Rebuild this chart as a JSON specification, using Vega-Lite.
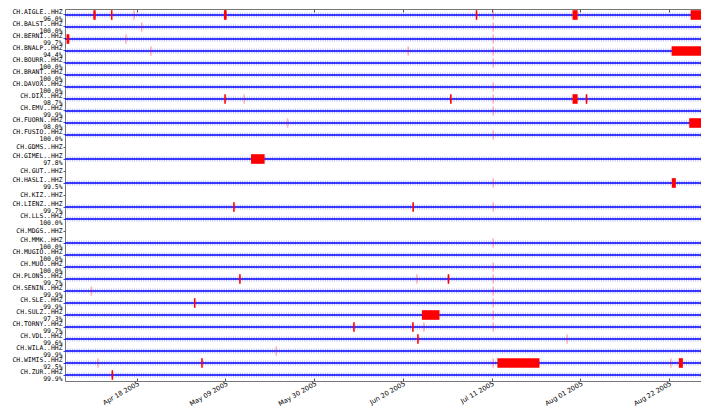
{
  "$schema": "https://vega.github.io/schema/vega-lite/v6.json",
  "autosize": {"type": "none"},
  "padding": {"left": 65, "top": 9, "right": 0, "bottom": 33},
  "width": 636,
  "height": 372,
  "background": "white",
  "config": {"view": {"stroke": null}},
  "datasets": {
    "stations": [
      {"row": "CH.AIGLE..HHZ|96.0%", "start": "2005-04-01T00:00:00Z", "end": "2005-08-31T00:00:00Z"},
      {"row": "CH.BALST..HHZ|100.0%", "start": "2005-04-01T00:00:00Z", "end": "2005-08-31T00:00:00Z"},
      {"row": "CH.BERNI..HHZ|99.7%", "start": "2005-04-01T00:00:00Z", "end": "2005-08-31T00:00:00Z"},
      {"row": "CH.BNALP..HHZ|94.4%", "start": "2005-04-01T00:00:00Z", "end": "2005-08-31T00:00:00Z"},
      {"row": "CH.BOURR..HHZ|100.0%", "start": "2005-04-01T00:00:00Z", "end": "2005-08-31T00:00:00Z"},
      {"row": "CH.BRANT..HHZ|100.0%", "start": "2005-04-01T00:00:00Z", "end": "2005-08-31T00:00:00Z"},
      {"row": "CH.DAVOX..HHZ|100.0%", "start": "2005-04-01T00:00:00Z", "end": "2005-08-31T00:00:00Z"},
      {"row": "CH.DIX..HHZ|98.7%", "start": "2005-04-01T00:00:00Z", "end": "2005-08-31T00:00:00Z"},
      {"row": "CH.EMV..HHZ|99.9%", "start": "2005-04-01T00:00:00Z", "end": "2005-08-31T00:00:00Z"},
      {"row": "CH.FUORN..HHZ|98.0%", "start": "2005-04-01T00:00:00Z", "end": "2005-08-31T00:00:00Z"},
      {"row": "CH.FUSIO..HHZ|100.0%", "start": "2005-04-01T00:00:00Z", "end": "2005-08-31T00:00:00Z"},
      {"row": "CH.GDMS..HHZ"},
      {"row": "CH.GIMEL..HHZ|97.8%", "start": "2005-04-01T00:00:00Z", "end": "2005-08-31T00:00:00Z"},
      {"row": "CH.GUT..HHZ"},
      {"row": "CH.HASLI..HHZ|99.5%", "start": "2005-04-01T00:00:00Z", "end": "2005-08-31T00:00:00Z"},
      {"row": "CH.KIZ..HHZ"},
      {"row": "CH.LIENZ..HHZ|99.7%", "start": "2005-04-01T00:00:00Z", "end": "2005-08-31T00:00:00Z"},
      {"row": "CH.LLS..HHZ|100.0%", "start": "2005-04-01T00:00:00Z", "end": "2005-08-31T00:00:00Z"},
      {"row": "CH.MDGS..HHZ"},
      {"row": "CH.MMK..HHZ|100.0%", "start": "2005-04-01T00:00:00Z", "end": "2005-08-31T00:00:00Z"},
      {"row": "CH.MUGIO..HHZ|100.0%", "start": "2005-04-01T00:00:00Z", "end": "2005-08-31T00:00:00Z"},
      {"row": "CH.MUO..HHZ|100.0%", "start": "2005-04-01T00:00:00Z", "end": "2005-08-31T00:00:00Z"},
      {"row": "CH.PLONS..HHZ|99.7%", "start": "2005-04-01T00:00:00Z", "end": "2005-08-31T00:00:00Z"},
      {"row": "CH.SENIN..HHZ|99.9%", "start": "2005-04-01T00:00:00Z", "end": "2005-08-31T00:00:00Z"},
      {"row": "CH.SLE..HHZ|99.9%", "start": "2005-04-01T00:00:00Z", "end": "2005-08-31T00:00:00Z"},
      {"row": "CH.SULZ..HHZ|97.3%", "start": "2005-04-01T00:00:00Z", "end": "2005-08-31T00:00:00Z"},
      {"row": "CH.TORNY..HHZ|99.7%", "start": "2005-04-01T00:00:00Z", "end": "2005-08-31T00:00:00Z"},
      {"row": "CH.VDL..HHZ|99.6%", "start": "2005-04-01T00:00:00Z", "end": "2005-08-31T00:00:00Z"},
      {"row": "CH.WILA..HHZ|99.9%", "start": "2005-04-01T00:00:00Z", "end": "2005-08-31T00:00:00Z"},
      {"row": "CH.WIMIS..HHZ|92.5%", "start": "2005-04-01T00:00:00Z", "end": "2005-08-31T00:00:00Z"},
      {"row": "CH.ZUR..HHZ|99.9%", "start": "2005-04-01T00:00:00Z", "end": "2005-08-31T00:00:00Z"}
    ],
    "gaps": [
      {"row": "CH.AIGLE..HHZ|96.0%", "start": "2005-04-07T17:00:00Z", "end": "2005-04-08T06:30:00Z"},
      {"row": "CH.AIGLE..HHZ|96.0%", "start": "2005-04-11T21:00:00Z", "end": "2005-04-12T06:00:00Z"},
      {"row": "CH.AIGLE..HHZ|96.0%", "start": "2005-05-08T15:00:00Z", "end": "2005-05-09T06:30:00Z"},
      {"row": "CH.AIGLE..HHZ|96.0%", "start": "2005-07-07T06:00:00Z", "end": "2005-07-07T15:00:00Z"},
      {"row": "CH.AIGLE..HHZ|96.0%", "start": "2005-07-30T04:00:00Z", "end": "2005-07-31T09:00:00Z"},
      {"row": "CH.AIGLE..HHZ|96.0%", "start": "2005-08-27T03:00:00Z", "end": "2005-08-31T00:00:00Z"},
      {"row": "CH.BERNI..HHZ|99.7%", "start": "2005-04-01T09:00:00Z", "end": "2005-04-02T00:30:00Z"},
      {"row": "CH.BNALP..HHZ|94.4%", "start": "2005-08-22T15:00:00Z", "end": "2005-08-31T00:00:00Z"},
      {"row": "CH.DIX..HHZ|98.7%", "start": "2005-05-08T17:00:00Z", "end": "2005-05-09T02:00:00Z"},
      {"row": "CH.DIX..HHZ|98.7%", "start": "2005-07-01T04:00:00Z", "end": "2005-07-01T13:00:00Z"},
      {"row": "CH.DIX..HHZ|98.7%", "start": "2005-07-30T04:00:00Z", "end": "2005-07-31T09:00:00Z"},
      {"row": "CH.DIX..HHZ|98.7%", "start": "2005-08-02T07:00:00Z", "end": "2005-08-02T16:00:00Z"},
      {"row": "CH.FUORN..HHZ|98.0%", "start": "2005-08-26T19:00:00Z", "end": "2005-08-31T00:00:00Z"},
      {"row": "CH.GIMEL..HHZ|97.8%", "start": "2005-05-15T01:00:00Z", "end": "2005-05-18T06:30:00Z"},
      {"row": "CH.HASLI..HHZ|99.5%", "start": "2005-08-22T16:00:00Z", "end": "2005-08-23T15:00:00Z"},
      {"row": "CH.LIENZ..HHZ|99.7%", "start": "2005-05-10T19:30:00Z", "end": "2005-05-11T04:30:00Z"},
      {"row": "CH.LIENZ..HHZ|99.7%", "start": "2005-06-22T06:00:00Z", "end": "2005-06-22T15:00:00Z"},
      {"row": "CH.PLONS..HHZ|99.7%", "start": "2005-05-12T05:30:00Z", "end": "2005-05-12T14:30:00Z"},
      {"row": "CH.PLONS..HHZ|99.7%", "start": "2005-06-30T14:30:00Z", "end": "2005-06-30T23:30:00Z"},
      {"row": "CH.SLE..HHZ|99.9%", "start": "2005-05-01T12:30:00Z", "end": "2005-05-01T21:30:00Z"},
      {"row": "CH.SULZ..HHZ|97.3%", "start": "2005-06-24T12:00:00Z", "end": "2005-06-28T16:00:00Z"},
      {"row": "CH.TORNY..HHZ|99.7%", "start": "2005-06-08T05:30:00Z", "end": "2005-06-08T14:30:00Z"},
      {"row": "CH.TORNY..HHZ|99.7%", "start": "2005-06-22T04:30:00Z", "end": "2005-06-22T13:30:00Z"},
      {"row": "CH.VDL..HHZ|99.6%", "start": "2005-06-23T09:00:00Z", "end": "2005-06-23T18:00:00Z"},
      {"row": "CH.WIMIS..HHZ|92.5%", "start": "2005-05-03T06:00:00Z", "end": "2005-05-03T15:00:00Z"},
      {"row": "CH.WIMIS..HHZ|92.5%", "start": "2005-07-12T09:00:00Z", "end": "2005-07-22T08:00:00Z"},
      {"row": "CH.WIMIS..HHZ|92.5%", "start": "2005-08-24T08:00:00Z", "end": "2005-08-25T07:00:00Z"},
      {"row": "CH.ZUR..HHZ|99.9%", "start": "2005-04-12T00:30:00Z", "end": "2005-04-12T09:30:00Z"}
    ],
    "faint": [
      {"row": "CH.AIGLE..HHZ|96.0%", "start": "2005-04-17T03:30:00Z", "end": "2005-04-17T12:30:00Z"},
      {"row": "CH.BALST..HHZ|100.0%", "start": "2005-04-18T23:30:00Z", "end": "2005-04-19T08:30:00Z"},
      {"row": "CH.BERNI..HHZ|99.7%", "start": "2005-04-15T06:00:00Z", "end": "2005-04-15T15:00:00Z"},
      {"row": "CH.BNALP..HHZ|94.4%", "start": "2005-04-21T04:00:00Z", "end": "2005-04-21T13:00:00Z"},
      {"row": "CH.BNALP..HHZ|94.4%", "start": "2005-06-21T02:00:00Z", "end": "2005-06-21T11:00:00Z"},
      {"row": "CH.DIX..HHZ|98.7%", "start": "2005-05-13T06:00:00Z", "end": "2005-05-13T15:00:00Z"},
      {"row": "CH.FUORN..HHZ|98.0%", "start": "2005-05-23T12:30:00Z", "end": "2005-05-23T21:30:00Z"},
      {"row": "CH.PLONS..HHZ|99.7%", "start": "2005-06-23T03:00:00Z", "end": "2005-06-23T12:00:00Z"},
      {"row": "CH.TORNY..HHZ|99.7%", "start": "2005-06-24T19:00:00Z", "end": "2005-06-25T04:00:00Z"},
      {"row": "CH.VDL..HHZ|99.6%", "start": "2005-07-28T16:30:00Z", "end": "2005-07-29T01:30:00Z"},
      {"row": "CH.WILA..HHZ|99.9%", "start": "2005-05-20T20:00:00Z", "end": "2005-05-21T05:00:00Z"},
      {"row": "CH.WIMIS..HHZ|92.5%", "start": "2005-04-08T15:00:00Z", "end": "2005-04-09T00:00:00Z"},
      {"row": "CH.WIMIS..HHZ|92.5%", "start": "2005-08-22T06:30:00Z", "end": "2005-08-22T15:30:00Z"},
      {"row": "CH.SENIN..HHZ|99.9%", "start": "2005-04-07T01:30:00Z", "end": "2005-04-07T10:30:00Z"},
      {"row": "CH.AIGLE..HHZ|96.0%", "start": "2005-07-11T04:30:00Z", "end": "2005-07-11T13:30:00Z"},
      {"row": "CH.BALST..HHZ|100.0%", "start": "2005-07-11T04:30:00Z", "end": "2005-07-11T13:30:00Z"},
      {"row": "CH.BERNI..HHZ|99.7%", "start": "2005-07-11T04:30:00Z", "end": "2005-07-11T13:30:00Z"},
      {"row": "CH.BNALP..HHZ|94.4%", "start": "2005-07-11T04:30:00Z", "end": "2005-07-11T13:30:00Z"},
      {"row": "CH.BOURR..HHZ|100.0%", "start": "2005-07-11T04:30:00Z", "end": "2005-07-11T13:30:00Z"},
      {"row": "CH.DAVOX..HHZ|100.0%", "start": "2005-07-11T04:30:00Z", "end": "2005-07-11T13:30:00Z"},
      {"row": "CH.DIX..HHZ|98.7%", "start": "2005-07-11T04:30:00Z", "end": "2005-07-11T13:30:00Z"},
      {"row": "CH.EMV..HHZ|99.9%", "start": "2005-07-11T04:30:00Z", "end": "2005-07-11T13:30:00Z"},
      {"row": "CH.FUSIO..HHZ|100.0%", "start": "2005-07-11T04:30:00Z", "end": "2005-07-11T13:30:00Z"},
      {"row": "CH.HASLI..HHZ|99.5%", "start": "2005-07-11T04:30:00Z", "end": "2005-07-11T13:30:00Z"},
      {"row": "CH.LIENZ..HHZ|99.7%", "start": "2005-07-11T04:30:00Z", "end": "2005-07-11T13:30:00Z"},
      {"row": "CH.MMK..HHZ|100.0%", "start": "2005-07-11T04:30:00Z", "end": "2005-07-11T13:30:00Z"},
      {"row": "CH.MUO..HHZ|100.0%", "start": "2005-07-11T04:30:00Z", "end": "2005-07-11T13:30:00Z"},
      {"row": "CH.PLONS..HHZ|99.7%", "start": "2005-07-11T04:30:00Z", "end": "2005-07-11T13:30:00Z"},
      {"row": "CH.SENIN..HHZ|99.9%", "start": "2005-07-11T04:30:00Z", "end": "2005-07-11T13:30:00Z"},
      {"row": "CH.SLE..HHZ|99.9%", "start": "2005-07-11T04:30:00Z", "end": "2005-07-11T13:30:00Z"},
      {"row": "CH.SULZ..HHZ|97.3%", "start": "2005-07-11T04:30:00Z", "end": "2005-07-11T13:30:00Z"},
      {"row": "CH.TORNY..HHZ|99.7%", "start": "2005-07-11T04:30:00Z", "end": "2005-07-11T13:30:00Z"},
      {"row": "CH.WIMIS..HHZ|92.5%", "start": "2005-07-11T04:30:00Z", "end": "2005-07-11T13:30:00Z"}
    ]
  },
  "resolve": {"axis": {"x": "independent"}},
  "layer": [
    {
      "data": {"name": "stations"},
      "mark": {"type": "rule", "clip": true, "strokeWidth": 5, "strokeDash": [1, 1.3], "color": "#8484ff", "opacity": 0.55},
      "encoding": {
        "y": {
          "field": "row", "type": "nominal", "bandPosition": 0.5,
          "scale": {
            "type": "band", "paddingInner": 0.2, "paddingOuter": 0.1,
            "domain": [
              "CH.AIGLE..HHZ|96.0%", "CH.BALST..HHZ|100.0%", "CH.BERNI..HHZ|99.7%", "CH.BNALP..HHZ|94.4%",
              "CH.BOURR..HHZ|100.0%", "CH.BRANT..HHZ|100.0%", "CH.DAVOX..HHZ|100.0%", "CH.DIX..HHZ|98.7%",
              "CH.EMV..HHZ|99.9%", "CH.FUORN..HHZ|98.0%", "CH.FUSIO..HHZ|100.0%", "CH.GDMS..HHZ",
              "CH.GIMEL..HHZ|97.8%", "CH.GUT..HHZ", "CH.HASLI..HHZ|99.5%", "CH.KIZ..HHZ",
              "CH.LIENZ..HHZ|99.7%", "CH.LLS..HHZ|100.0%", "CH.MDGS..HHZ", "CH.MMK..HHZ|100.0%",
              "CH.MUGIO..HHZ|100.0%", "CH.MUO..HHZ|100.0%", "CH.PLONS..HHZ|99.7%", "CH.SENIN..HHZ|99.9%",
              "CH.SLE..HHZ|99.9%", "CH.SULZ..HHZ|97.3%", "CH.TORNY..HHZ|99.7%", "CH.VDL..HHZ|99.6%",
              "CH.WILA..HHZ|99.9%", "CH.WIMIS..HHZ|92.5%", "CH.ZUR..HHZ|99.9%"
            ]
          },
          "axis": {
            "orient": "left", "title": null,
            "labelExpr": "split(datum.value, '|')",
            "labelOffset": {"condition": {"test": "indexof(datum.value, '|') >= 0", "value": -3.5}, "value": 0},
            "labelFont": "DejaVu Sans Mono", "labelFontSize": 6.4, "labelLineHeight": 7,
            "labelColor": "#000", "labelAlign": "right", "labelBaseline": "middle",
            "labelOverlap": false, "labelPadding": 1, "labelLimit": 200,
            "tickSize": 2, "tickColor": "#555", "domainColor": "#777", "grid": false
          }
        },
        "x": {
          "field": "start", "type": "temporal",
          "scale": {"type": "utc", "domain": [{"utc": true, "year": 2005, "month": 4, "date": 1}, {"utc": true, "year": 2005, "month": 8, "date": 29, "hours": 14}]},
          "axis": {
            "orient": "bottom", "title": null, "format": "%b %d %Y",
            "values": [
              {"utc": true, "year": 2005, "month": 4, "date": 18},
              {"utc": true, "year": 2005, "month": 5, "date": 9},
              {"utc": true, "year": 2005, "month": 5, "date": 30},
              {"utc": true, "year": 2005, "month": 6, "date": 20},
              {"utc": true, "year": 2005, "month": 7, "date": 11},
              {"utc": true, "year": 2005, "month": 8, "date": 1},
              {"utc": true, "year": 2005, "month": 8, "date": 22}
            ],
            "labelAngle": -30, "labelAlign": "right", "labelBaseline": "top",
            "labelFont": "DejaVu Sans", "labelFontSize": 6.6, "labelColor": "#000",
            "labelOverlap": false, "labelFlush": false, "labelPadding": 2,
            "tickSize": -3, "tickColor": "#555", "domainColor": "#777", "grid": false
          }
        },
        "x2": {"field": "end"}
      }
    },
    {
      "data": {"name": "stations"},
      "mark": {"type": "rule", "clip": true, "strokeWidth": 1.6, "color": "#0000ff"},
      "encoding": {
        "y": {"field": "row", "type": "nominal", "bandPosition": 0.5},
        "x": {
          "field": "start", "type": "temporal",
          "axis": {
            "orient": "top", "title": null, "labels": false,
            "values": [
              {"utc": true, "year": 2005, "month": 4, "date": 18},
              {"utc": true, "year": 2005, "month": 5, "date": 9},
              {"utc": true, "year": 2005, "month": 5, "date": 30},
              {"utc": true, "year": 2005, "month": 6, "date": 20},
              {"utc": true, "year": 2005, "month": 7, "date": 11},
              {"utc": true, "year": 2005, "month": 8, "date": 1},
              {"utc": true, "year": 2005, "month": 8, "date": 22}
            ],
            "tickSize": -3, "tickColor": "#555", "domainColor": "#777", "grid": false
          }
        },
        "x2": {"field": "end"}
      }
    },
    {
      "data": {"name": "faint"},
      "mark": {"type": "rect", "clip": true, "color": "#ff0000", "opacity": 0.28},
      "encoding": {
        "y": {"field": "row", "type": "nominal"},
        "x": {"field": "start", "type": "temporal", "axis": null},
        "x2": {"field": "end"}
      }
    },
    {
      "data": {"name": "gaps"},
      "mark": {"type": "rect", "clip": true, "color": "#ff0000"},
      "encoding": {
        "y": {"field": "row", "type": "nominal"},
        "x": {"field": "start", "type": "temporal", "axis": null},
        "x2": {"field": "end"}
      }
    }
  ]
}
